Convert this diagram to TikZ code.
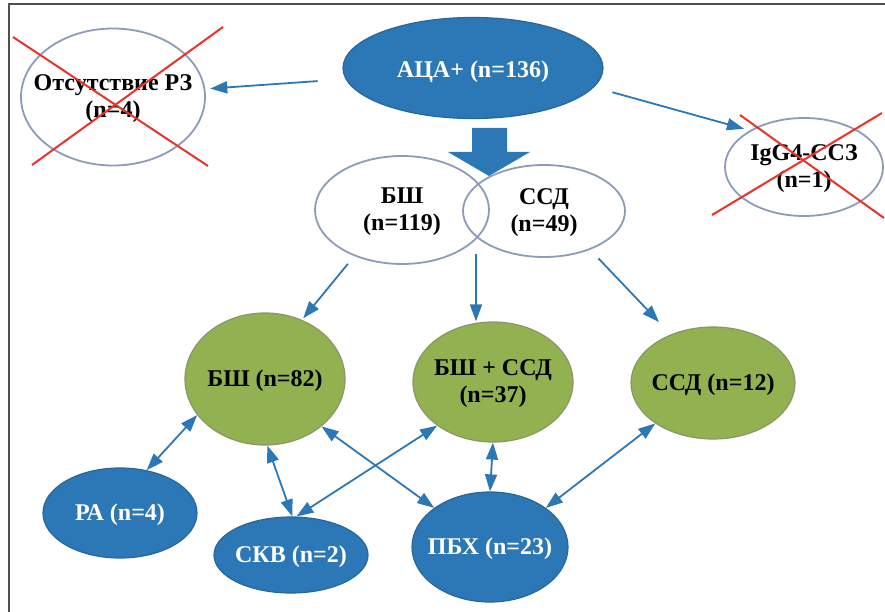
\documentclass[tikz,border=0pt]{standalone}
\usepackage{fontspec}
\setmainfont{Liberation Serif}
\usepackage{tikz}
\usetikzlibrary{arrows.meta,positioning,calc,shapes.geometric}

\definecolor{acablue}{RGB}{44,120,182}
\definecolor{grpgreen}{RGB}{146,177,80}
\definecolor{rimgray}{RGB}{140,155,182}
\definecolor{crossred}{RGB}{232,52,40}
\definecolor{framegray}{RGB}{80,80,80}

\begin{document}
\begin{tikzpicture}[x=1pt,y=-1pt,
    txt/.style={font=\bfseries\fontsize{24}{27}\selectfont, align=center, inner sep=0pt, yshift=-2pt},
    ovalbase/.style={ellipse, inner sep=0pt, line width=1.2pt},
    ovblue/.style={ovalbase, fill=acablue, draw=acablue!85!black},
    ovgreen/.style={ovalbase, fill=grpgreen, draw=grpgreen!45!gray},
    ovwhite/.style={ovalbase, draw=rimgray, line width=1.8pt},
    arr/.style={acablue, line width=1.8pt, -{Triangle[length=17pt,width=12pt]}},
    biarr/.style={arr, {Triangle[length=17pt,width=12pt]}-{Triangle[length=17pt,width=12pt]}},
    xline/.style={crossred, line width=2pt}]
    \useasboundingbox (0,0) rectangle (885,612);

    % Frame
    \draw[framegray, line width=1.5pt] (9,612) -- (9,4) -- (885,4);

    % Top level
    \node[ovblue, minimum width=260pt, minimum height=101pt,
          label={[txt,white,yshift=-2pt]center:{АЦА+ (n=136)}}] (aca) at (473,68) {};
    \node[ovwhite, minimum width=184pt, minimum height=137pt,
          label={[txt]center:{Отсутствие РЗ\\(n=4)}}] (absent) at (113,97) {};
    \node[ovwhite, minimum width=158pt, minimum height=98pt,
          label={[txt]center:{IgG4-ССЗ\\(n=1)}}] (igg) at (804,167) {};

    % Excluded groups
    \draw[xline] (13,37) -- (208,166);
    \draw[xline] (32,165) -- (223,27);
    \draw[xline] (740,115) -- (884,218);
    \draw[xline] (712,215) -- (882,113);

    % Overlapping diagnoses
    \node[ovwhite, minimum width=174pt, minimum height=108pt,
          label={[txt]center:{БШ\\(n=119)}}] (bsh119) at (402,210) {};
    \node[ovwhite, minimum width=162pt, minimum height=92pt,
          label={[txt]center:{ССД\\(n=49)}}] (ssd49) at (544,211) {};

    % Block arrow
    \fill[acablue] (472,128) -- (507,128) -- (507,152) -- (530,152) -- (489,176)
        -- (448,152) -- (472,152) -- cycle;

    % Subgroups
    \node[ovgreen, minimum width=160pt, minimum height=132pt,
          label={[txt]center:{БШ (n=82)}}] (bsh82) at (265,379) {};
    \node[ovgreen, minimum width=160pt, minimum height=120pt,
          label={[txt]center:{БШ + ССД\\(n=37)}}] (both37) at (493,382) {};
    \node[ovgreen, minimum width=164pt, minimum height=112pt,
          label={[txt]center:{ССД (n=12)}}] (ssd12) at (713,383) {};

    % Associated diseases
    \node[ovblue, minimum width=154pt, minimum height=90pt,
          label={[txt,white]center:{РА (n=4)}}] (ra) at (120,513) {};
    \node[ovblue, minimum width=154pt, minimum height=76pt,
          label={[txt,white]center:{СКВ (n=2)}}] (skv) at (291,555) {};
    \node[ovblue, minimum width=156pt, minimum height=110pt,
          label={[txt,white]center:{ПБХ (n=23)}}] (pbh) at (490,547) {};

    % Arrows
    \draw[arr, shorten <=28pt, shorten >=5pt] (aca.185) -- (absent.5);
    \draw[arr, shorten <=19pt, shorten >=6pt] (aca.-9) -- (igg.146);
    \draw[arr, shorten <=10pt, shorten >=2pt] (bsh119.224) -- (bsh82.58);
    \coordinate (lens) at ($(bsh119.east)!0.5!(ssd49.west)$);
    \draw[arr] ($(lens)+(0,43)$) -- (lens |- both37.north);
    \draw[arr, shorten <=12pt, shorten >=17pt] (ssd49.-40) -- (ssd12.131);

    \draw[biarr] (ra.58) -- (bsh82.208);
    \draw[biarr] (skv.88) -- (bsh82.-88);
    \draw[biarr] (skv.82) -- (both37.218);
    \draw[biarr] (bsh82.-40) -- (pbh.145);
    \draw[biarr] (both37.south) -- (pbh.north);
    \draw[biarr] (ssd12.215) -- (pbh.35);
\end{tikzpicture}
\end{document}
